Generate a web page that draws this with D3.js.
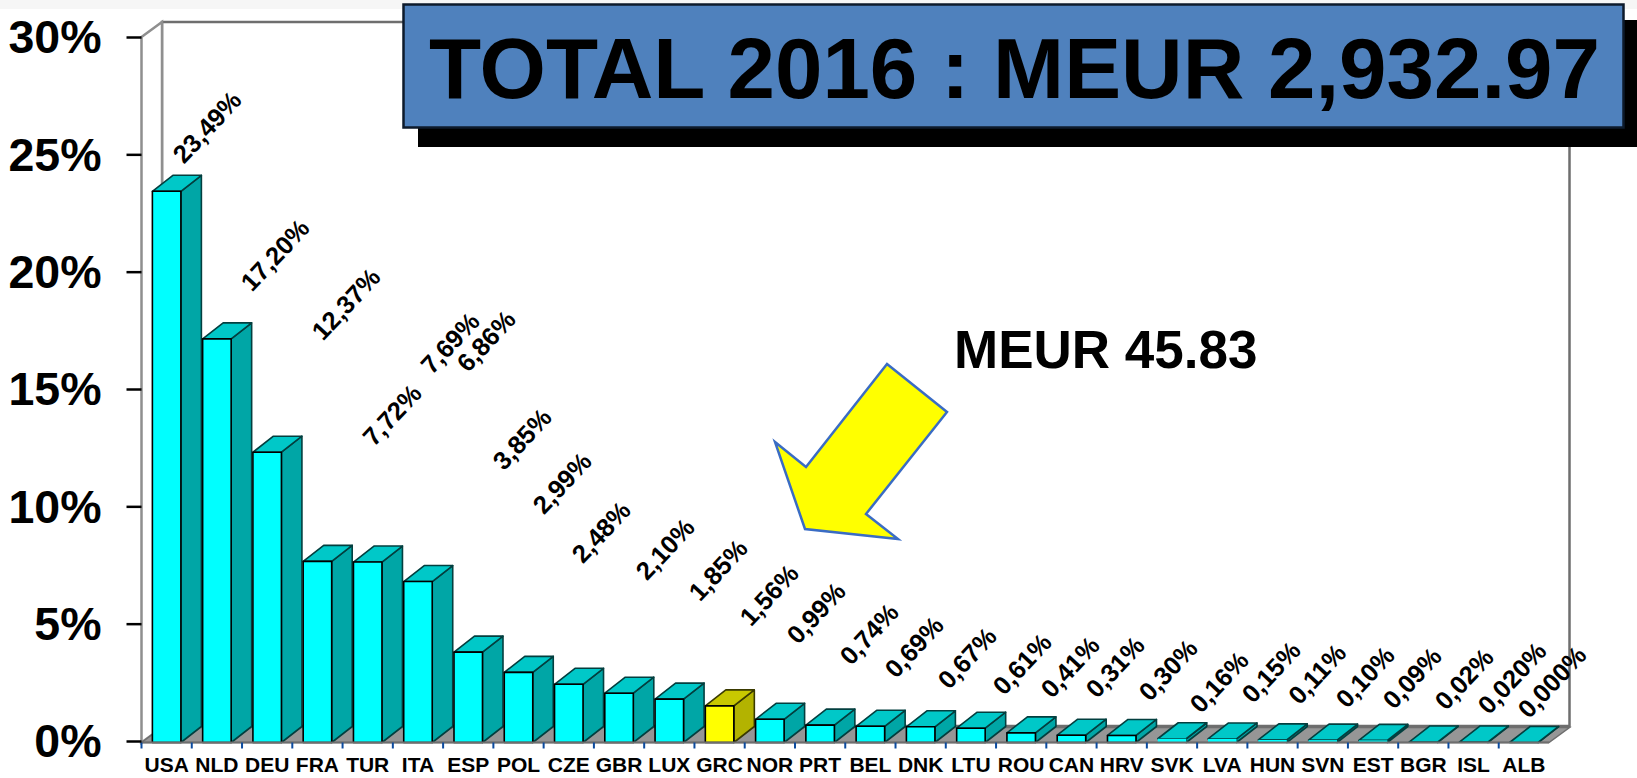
<!DOCTYPE html>
<html>
<head>
<meta charset="utf-8">
<title>Total 2016</title>
<script src="https://cdn.jsdelivr.net/npm/d3@7"></script>
<style>
  html, body { margin: 0; padding: 0; background: #fff; }
  svg { display: block; }
  text { font-family: "Liberation Sans", Arial, sans-serif; font-weight: bold; fill: #000; }
</style>
</head>
<body>
<div id="chart"></div>
<script>
// chart data
const categories = ["USA","NLD","DEU","FRA","TUR","ITA","ESP","POL","CZE","GBR","LUX","GRC","NOR","PRT","BEL","DNK","LTU","ROU","CAN","HRV","SVK","LVA","HUN","SVN","EST","BGR","ISL","ALB"];
const shares = [23.49,17.20,12.37,7.72,7.69,6.86,3.85,2.99,2.48,2.10,1.85,1.56,0.99,0.74,0.69,0.67,0.61,0.41,0.31,0.30,0.16,0.15,0.11,0.10,0.09,0.02,0.020,0.000];
const shareLabels = ["23,49%","17,20%","12,37%","7,72%","7,69%","6,86%","3,85%","2,99%","2,48%","2,10%","1,85%","1,56%","0,99%","0,74%","0,69%","0,67%","0,61%","0,41%","0,31%","0,30%","0,16%","0,15%","0,11%","0,10%","0,09%","0,02%","0,020%","0,000%"];
const yTicks = [0,5,10,15,20,25,30];
const highlighted = "GRC";

// the data labels were placed by hand in the original, so they get their own centres
const labelX = [207,275,346,392,450,486,522,562,601,665,718,769,816,869,914,967,1022,1070,1115,1168,1219,1271,1317,1365,1412,1464,1512,1552];
const labelY = [127,255,304,415,343,341,439,483,532,549,570,595,613,634,647,658,664,667,667,670,682,672,674,677,678,679,678,682];

const width = 1637, height = 778;
const depthX = 20.5, depthY = -15; // 3d offset of the back plane
const barDepthY = -16; // bars lean a touch more than the box
const barDrop = 1.5;   // bars stand slightly below the axis zero

const svg = d3.select("#chart").append("svg")
  .attr("width", width)
  .attr("height", height)
  .attr("viewBox", `0 0 ${width} ${height}`);

const x = d3.scaleBand()
  .domain(categories)
  .range([141.5, 1549])
  .paddingInner(0.433)
  .paddingOuter(0.2165);

const y = d3.scaleLinear().domain([0, 30]).range([741, 37]);
const barY = v => y(v) + barDrop;

const x0 = x.range()[0], x1 = x.range()[1];
const floorY = y(0) + 1.5;

// faint band along the top of the slide
svg.append("rect").attr("width", width).attr("height", 9).attr("fill", "#f6f6f6");

// chart box: back wall, left wall, floor
svg.append("rect")
  .attr("x", x0 + depthX).attr("y", y(30) + depthY)
  .attr("width", x1 - x0).attr("height", y(0) - y(30))
  .attr("fill", "#fff")
  .attr("stroke", "#6e6e6e")
  .attr("stroke-width", 2.5);

svg.append("polygon")
  .attr("points", [[x0, y(30)], [x0 + depthX, y(30) + depthY], [x0 + depthX, floorY + depthY], [x0, floorY]].join(" "))
  .attr("fill", "#fff")
  .attr("stroke", "#8f8f8f")
  .attr("stroke-width", 2.5);

svg.append("polygon")
  .attr("points", [[x0, floorY], [x1, floorY], [x1 + depthX, floorY + depthY], [x0 + depthX, floorY + depthY]].join(" "))
  .attr("fill", "#969696")
  .attr("stroke", "#6e6e6e")
  .attr("stroke-width", 1.5);

// bars, left to right so each one sits against the previous
const data = categories.map((c, i) => ({ c, v: shares[i] }));
const w = x.bandwidth();
const isHi = d => d.c === highlighted;

const bars = svg.append("g").selectAll("g")
  .data(data)
  .join("g")
  .attr("stroke-linejoin", "round");

bars.append("polygon") // side
  .attr("points", d => [[x(d.c) + w, barY(d.v)], [x(d.c) + w + depthX, barY(d.v) + barDepthY], [x(d.c) + w + depthX, barY(0) + barDepthY], [x(d.c) + w, barY(0)]].join(" "))
  .attr("fill", d => isHi(d) ? "#b3b300" : "#00a6a6")
  .attr("stroke", d => isHi(d) ? "#3a3a00" : "#033f3f")
  .attr("stroke-width", 1.6);

bars.append("polygon") // top
  .attr("points", d => [[x(d.c), barY(d.v)], [x(d.c) + depthX, barY(d.v) + barDepthY], [x(d.c) + w + depthX, barY(d.v) + barDepthY], [x(d.c) + w, barY(d.v)]].join(" "))
  .attr("fill", d => isHi(d) ? "#c8c800" : "#00c8c8")
  .attr("stroke", d => isHi(d) ? "#3a3a00" : "#033f3f")
  .attr("stroke-width", 1.6);

bars.append("rect") // front
  .attr("x", d => x(d.c))
  .attr("y", d => barY(d.v))
  .attr("width", w)
  .attr("height", d => barY(0) - barY(d.v))
  .attr("fill", d => isHi(d) ? "#ffff00" : "#00ffff")
  .attr("stroke", "#000")
  .attr("stroke-width", d => d.v < 0.25 ? 0 : 1.6);

// front edge of the floor and the category ticks between bars
svg.append("line")
  .attr("x1", x0).attr("x2", x1)
  .attr("y1", floorY).attr("y2", floorY)
  .attr("stroke", "#6e6e6e")
  .attr("stroke-width", 2);

svg.append("g").selectAll("line")
  .data(categories)
  .join("line")
  .attr("x1", d => x(d) + w / 2 - x.step() / 2)
  .attr("x2", d => x(d) + w / 2 - x.step() / 2)
  .attr("y1", floorY)
  .attr("y2", floorY + 6)
  .attr("stroke", "#0b4a9e")
  .attr("stroke-width", 2);

// axes
const xAxisG = svg.append("g")
  .attr("transform", `translate(0,${floorY})`)
  .call(d3.axisBottom(x).tickSize(0).tickPadding(15));
xAxisG.select(".domain").remove();
xAxisG.selectAll("text").attr("font-size", 21).attr("font-family", null);

const yAxisG = svg.append("g")
  .attr("transform", `translate(${x0},0)`)
  .call(d3.axisLeft(y).tickValues(yTicks).tickSize(15).tickPadding(25).tickFormat(d => d + "%"));
yAxisG.select(".domain").remove();
yAxisG.selectAll("line").attr("stroke", "#000").attr("stroke-width", 2.5);
yAxisG.selectAll("text").attr("font-size", 46.5).attr("font-family", null).attr("dy", "0.34em");

// rotated data labels
svg.append("g").selectAll("text")
  .data(shareLabels)
  .join("text")
  .attr("text-anchor", "middle")
  .attr("dominant-baseline", "central")
  .attr("font-size", 25.5)
  .attr("transform", (d, i) => `translate(${labelX[i]},${labelY[i]}) rotate(-47)`)
  .text(d => d);

// title box with its hard shadow
svg.append("rect")
  .attr("x", 418).attr("y", 20).attr("width", width - 418).attr("height", 127)
  .attr("fill", "#000");
svg.append("rect")
  .attr("x", 403.5).attr("y", 4.5).attr("width", 1220).attr("height", 123)
  .attr("fill", "#4f81bd")
  .attr("stroke", "#0d1a2b")
  .attr("stroke-width", 2.5);
svg.append("text")
  .attr("x", 1014.5).attr("y", 98)
  .attr("text-anchor", "middle")
  .attr("font-size", 85.3)
  .text("TOTAL 2016 : MEUR 2,932.97");

// arrow callout for Greece
const arrowPoints = [[887,364],[947,412],[866,514],[898,539],[805,529],[775,442],[806,467]];
svg.append("polygon")
  .attr("points", arrowPoints.join(" "))
  .attr("fill", "#ffff00")
  .attr("stroke", "#3a6cc4")
  .attr("stroke-width", 2.5);
svg.append("text")
  .attr("x", 954).attr("y", 368)
  .attr("font-size", 53)
  .text("MEUR 45.83");
</script>
</body>
</html>
